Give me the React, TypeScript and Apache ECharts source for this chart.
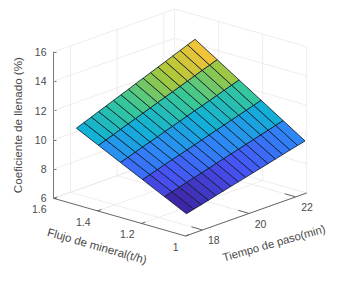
import React, { useEffect, useRef } from "react";
import * as echarts from "echarts";

const flowValues = [1.0, 1.1, 1.2, 1.3, 1.4, 1.5];
const timeValues = [17.31, 17.63, 17.95, 18.26, 18.58, 18.9, 19.22, 19.54, 19.85, 20.17, 20.49, 20.81, 21.13, 21.44, 21.76, 22.08, 22.4];
const fillAt10 = [7.5, 7.63, 7.76, 7.89, 8.03, 8.16, 8.29, 8.42, 8.55, 8.68, 8.81, 8.94, 9.08, 9.21, 9.34, 9.47, 9.6];
const fillAt11 = [8.24, 8.39, 8.53, 8.68, 8.82, 8.97, 9.11, 9.26, 9.4, 9.55, 9.69, 9.84, 9.98, 10.13, 10.27, 10.42, 10.56];
const fillAt12 = [8.98, 9.14, 9.3, 9.46, 9.62, 9.77, 9.93, 10.09, 10.25, 10.41, 10.57, 10.73, 10.89, 11.04, 11.2, 11.36, 11.52];
const fillAt13 = [9.72, 9.89, 10.07, 10.24, 10.41, 10.58, 10.76, 10.93, 11.1, 11.27, 11.45, 11.62, 11.79, 11.96, 12.14, 12.31, 12.48];
const fillAt14 = [10.46, 10.65, 10.83, 11.02, 11.21, 11.39, 11.58, 11.76, 11.95, 12.14, 12.32, 12.51, 12.7, 12.88, 13.07, 13.25, 13.44];
const fillAt15 = [11.2, 11.4, 11.6, 11.8, 12.0, 12.2, 12.4, 12.6, 12.8, 13.0, 13.2, 13.4, 13.6, 13.8, 14.0, 14.2, 14.4];
const fillRows = [fillAt10, fillAt11, fillAt12, fillAt13, fillAt14, fillAt15];

const zTicks = [6, 8, 10, 12, 14, 16];
const flowTicks = [1.6, 1.4, 1.2, 1];
const flowLabels = ["1.6", "1.4", "1.2", "1"];
const timeTicks = [18, 20, 22];
const timeLabels = ["18", "20", "22"];

const parula = [
  [62, 38, 168], [72, 82, 244], [46, 135, 247], [18, 177, 214],
  [55, 200, 151], [171, 199, 57], [254, 195, 56], [249, 251, 21],
];
const colorFor = (v: number) => {
  const p = Math.max(0, Math.min(0.9999, v)) * (parula.length - 1);
  const i = Math.floor(p);
  const k = p - i;
  const c = parula[i].map((a, n) => Math.round(a + (parula[i + 1][n] - a) * k));
  return `rgb(${c[0]},${c[1]},${c[2]})`;
};

const FLOW_MAX = 1.6, FLOW_MIN = 1.0, T_MIN = 17.27, T_MAX = 22.47;
const PX_PER_Z = 14.63;
const project = (f: number, t: number, z: number) => {
  const a = (FLOW_MAX - f) / (FLOW_MAX - FLOW_MIN);
  const b = (t - T_MIN) / (T_MAX - T_MIN);
  const u = a * 132 + b * 121.2;
  const drop = a * 37.7 - b * 43;
  return [u, z - drop / PX_PER_Z];
};

const fillMin = 7.5, fillMax = 14.4;

const cellRows: number[][] = [];
for (let i = 0; i < flowValues.length - 1; i++) {
  for (let j = 0; j < timeValues.length - 1; j++) {
    cellRows.push([
      flowValues[i], flowValues[i + 1], timeValues[j], timeValues[j + 1],
      fillRows[i][j], fillRows[i][j + 1], fillRows[i + 1][j + 1], fillRows[i + 1][j],
    ]);
  }
}

const GRID = 0, AXIS = 1;
const lineRows: number[][] = [];
zTicks.forEach((z) => {
  lineRows.push([FLOW_MAX, T_MIN, z, FLOW_MAX, T_MAX, z, GRID]);
  lineRows.push([FLOW_MAX, T_MAX, z, FLOW_MIN, T_MAX, z, GRID]);
});
timeTicks.forEach((t) => {
  lineRows.push([FLOW_MAX, t, 6, FLOW_MAX, t, 16, GRID]);
  lineRows.push([FLOW_MAX, t, 6, FLOW_MIN, t, 6, GRID]);
  lineRows.push([FLOW_MIN + 0.05, t, 6, FLOW_MIN, t, 6, AXIS]);
});
flowTicks.forEach((f) => {
  lineRows.push([f, T_MAX, 6, f, T_MAX, 16, GRID]);
  lineRows.push([f, T_MIN, 6, f, T_MAX, 6, GRID]);
  lineRows.push([f, T_MIN, 6, f, T_MIN + 0.16, 6, AXIS]);
});
lineRows.push([FLOW_MAX, T_MIN, 6, FLOW_MIN, T_MIN, 6, AXIS]);
lineRows.push([FLOW_MIN, T_MIN, 6, FLOW_MIN, T_MAX, 6, AXIS]);

const TEXT = "#4a4a4a";
const FONT = "Liberation Sans";

export default function App() {
  const ref = useRef<HTMLDivElement>(null);
  useEffect(() => {
    const chart = echarts.init(ref.current!, undefined, { renderer: "svg" });
    const pt = (api: any, f: number, t: number, z: number) => api.coord(project(f, t, z));
    chart.setOption({
      animation: false,
      backgroundColor: "#ffffff",
      grid: { left: 53.5, top: 52, width: 253.2, height: 146.3, containLabel: false },
      xAxis: { type: "value", min: 0, max: 253.2, show: false },
      yAxis: {
        type: "value", min: 6, max: 16, interval: 2,
        name: "Coeficiente de llenado (%)", nameLocation: "middle", nameGap: 26.5,
        nameTextStyle: { color: TEXT, fontSize: 11.6, fontFamily: FONT },
        axisLine: { show: true, lineStyle: { color: "#555555", width: 0.8 } },
        axisTick: { show: true, inside: true, length: 3, lineStyle: { color: "#555555", width: 0.8 } },
        axisLabel: { color: TEXT, fontSize: 10.5, fontFamily: FONT, margin: 7 },
        splitLine: { show: false },
      },
      series: [
        {
          type: "custom", silent: true, clip: false, z: 1,
          data: lineRows,
          renderItem: (_: any, api: any) => {
            const a = pt(api, api.value(0), api.value(1), api.value(2));
            const b = pt(api, api.value(3), api.value(4), api.value(5));
            const isAxis = api.value(6) === AXIS;
            return {
              type: "line",
              shape: { x1: a[0], y1: a[1], x2: b[0], y2: b[1] },
              style: { stroke: isAxis ? "#555555" : "#e8e8ea", lineWidth: isAxis ? 0.9 : 0.8, fill: "none" },
            };
          },
        },
        {
          type: "custom", silent: true, clip: false, z: 2,
          data: cellRows,
          renderItem: (_: any, api: any) => {
            const f0 = api.value(0), f1 = api.value(1), t0 = api.value(2), t1 = api.value(3);
            const z00 = api.value(4), z01 = api.value(5), z11 = api.value(6), z10 = api.value(7);
            return {
              type: "polygon",
              shape: { points: [pt(api, f0, t0, z00), pt(api, f0, t1, z01), pt(api, f1, t1, z11), pt(api, f1, t0, z10)] },
              style: {
                fill: colorFor((z00 - fillMin) / (fillMax - fillMin)),
                stroke: "rgba(10,25,40,0.95)", lineWidth: 0.85, lineJoin: "round",
              },
            };
          },
        },
        {
          type: "custom", silent: true, clip: false, z: 3,
          data: flowTicks.map((f, i) => [f, i]),
          renderItem: (_: any, api: any) => {
            const p = pt(api, api.value(0), T_MIN, 6);
            return {
              type: "text", x: p[0] - 7, y: p[1] + 11,
              style: { text: flowLabels[api.value(1)], fill: TEXT, font: `10.5px ${FONT}`, textAlign: "right", textVerticalAlign: "middle" },
            };
          },
        },
        {
          type: "custom", silent: true, clip: false, z: 3,
          data: timeTicks.map((t, i) => [t, i]),
          renderItem: (_: any, api: any) => {
            const p = pt(api, FLOW_MIN, api.value(0), 6);
            return {
              type: "text", x: p[0] + 5.5, y: p[1] + 10.5,
              style: { text: timeLabels[api.value(1)], fill: TEXT, font: `10.5px ${FONT}`, textAlign: "left", textVerticalAlign: "middle" },
            };
          },
        },
      ],
      graphic: [
        {
          type: "text", x: 97, y: 246, rotation: (-16 * Math.PI) / 180,
          style: { text: "Flujo de mineral(t/h)", fill: TEXT, font: `11.6px ${FONT}`, textAlign: "center", textVerticalAlign: "middle" },
        },
        {
          type: "text", x: 274, y: 243, rotation: (16 * Math.PI) / 180,
          style: { text: "Tiempo de paso(min)", fill: TEXT, font: `11.3px ${FONT}`, textAlign: "center", textVerticalAlign: "middle" },
        },
      ],
    });
    return () => chart.dispose();
  }, []);
  return <div ref={ref} style={{ position: "fixed", left: 0, top: 0, width: 339, height: 282 }} />;
}
